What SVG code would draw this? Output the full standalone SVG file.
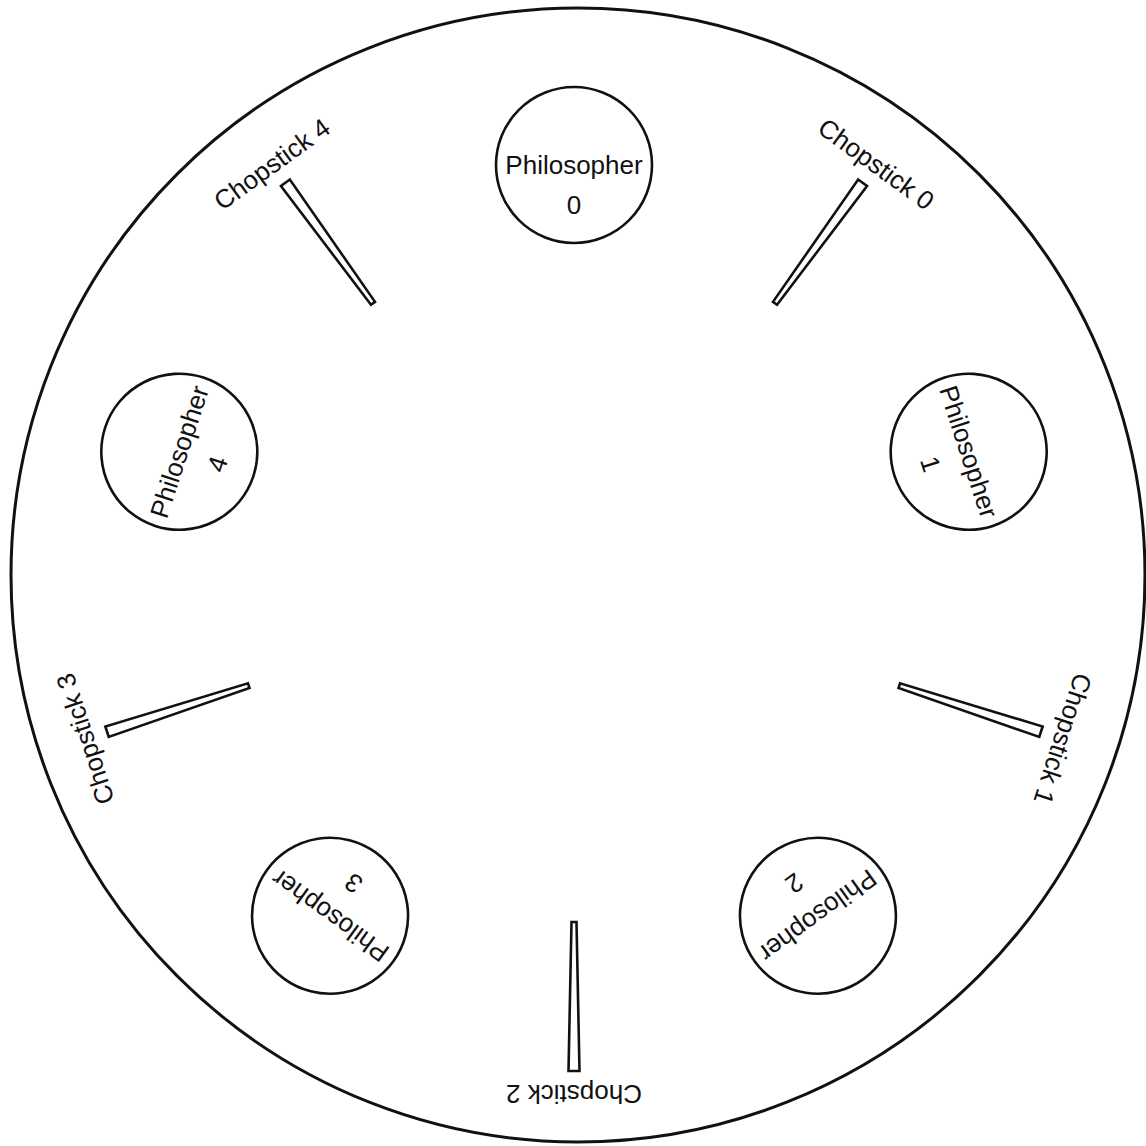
<svg xmlns="http://www.w3.org/2000/svg" width="1146" height="1146" viewBox="0 0 1146 1146">
<style>
.table{fill:#fff;stroke:#111;stroke-width:3}
.phil{fill:#fff;stroke:#111;stroke-width:2.6}
.stick{fill:#fff;stroke:#111;stroke-width:2.6;stroke-linejoin:miter}
text{font-family:"Liberation Sans",Arial,sans-serif;font-size:26px;fill:#111;text-anchor:middle}
</style>
<defs>
<g id="philShape">
<circle class="phil" cx="574" cy="165" r="78"/>
</g>
<polygon id="stickShape" class="stick" points="571.5,922 576.5,922 579.5,1071 568.5,1071"/>
</defs>
<rect width="1146" height="1146" fill="#fff"/>
<g id="table"><circle class="table" cx="578" cy="575" r="567"/></g>

<g id="philosopher0" transform="rotate(0 574 580)">
<use href="#philShape"/>
<text x="574" y="174">Philosopher</text>
<text x="574" y="214">0</text>
</g>
<g id="philosopher1" transform="rotate(72 574 580)">
<use href="#philShape"/>
<text x="574" y="174">Philosopher</text>
<text x="574" y="214">1</text>
</g>
<g id="philosopher2" transform="rotate(144 574 580)">
<use href="#philShape"/>
<text x="574" y="174">Philosopher</text>
<text x="574" y="214">2</text>
</g>
<g id="philosopher3" transform="rotate(216 574 580)">
<use href="#philShape"/>
<text x="574" y="174">Philosopher</text>
<text x="574" y="214">3</text>
</g>
<g id="philosopher4" transform="rotate(288 574 580)">
<use href="#philShape"/>
<text x="574" y="174">Philosopher</text>
<text x="574" y="214">4</text>
</g>

<g id="chopstick0" transform="rotate(-144 574 580)">
<use href="#stickShape"/>
<text x="574" y="1103" transform="rotate(180 574 1094)">Chopstick 0</text>
</g>
<g id="chopstick1" transform="rotate(-72 574 580)">
<use href="#stickShape"/>
<text x="574" y="1103" transform="rotate(180 574 1094)">Chopstick 1</text>
</g>
<g id="chopstick2" transform="rotate(0 574 580)">
<use href="#stickShape"/>
<text x="574" y="1103" transform="rotate(180 574 1094)">Chopstick 2</text>
</g>
<g id="chopstick3" transform="rotate(72 574 580)">
<use href="#stickShape"/>
<text x="574" y="1103" transform="rotate(180 574 1094)">Chopstick 3</text>
</g>
<g id="chopstick4" transform="rotate(144 574 580)">
<use href="#stickShape"/>
<text x="574" y="1103" transform="rotate(180 574 1094)">Chopstick 4</text>
</g>
<g id="connectors"/>
</svg>
